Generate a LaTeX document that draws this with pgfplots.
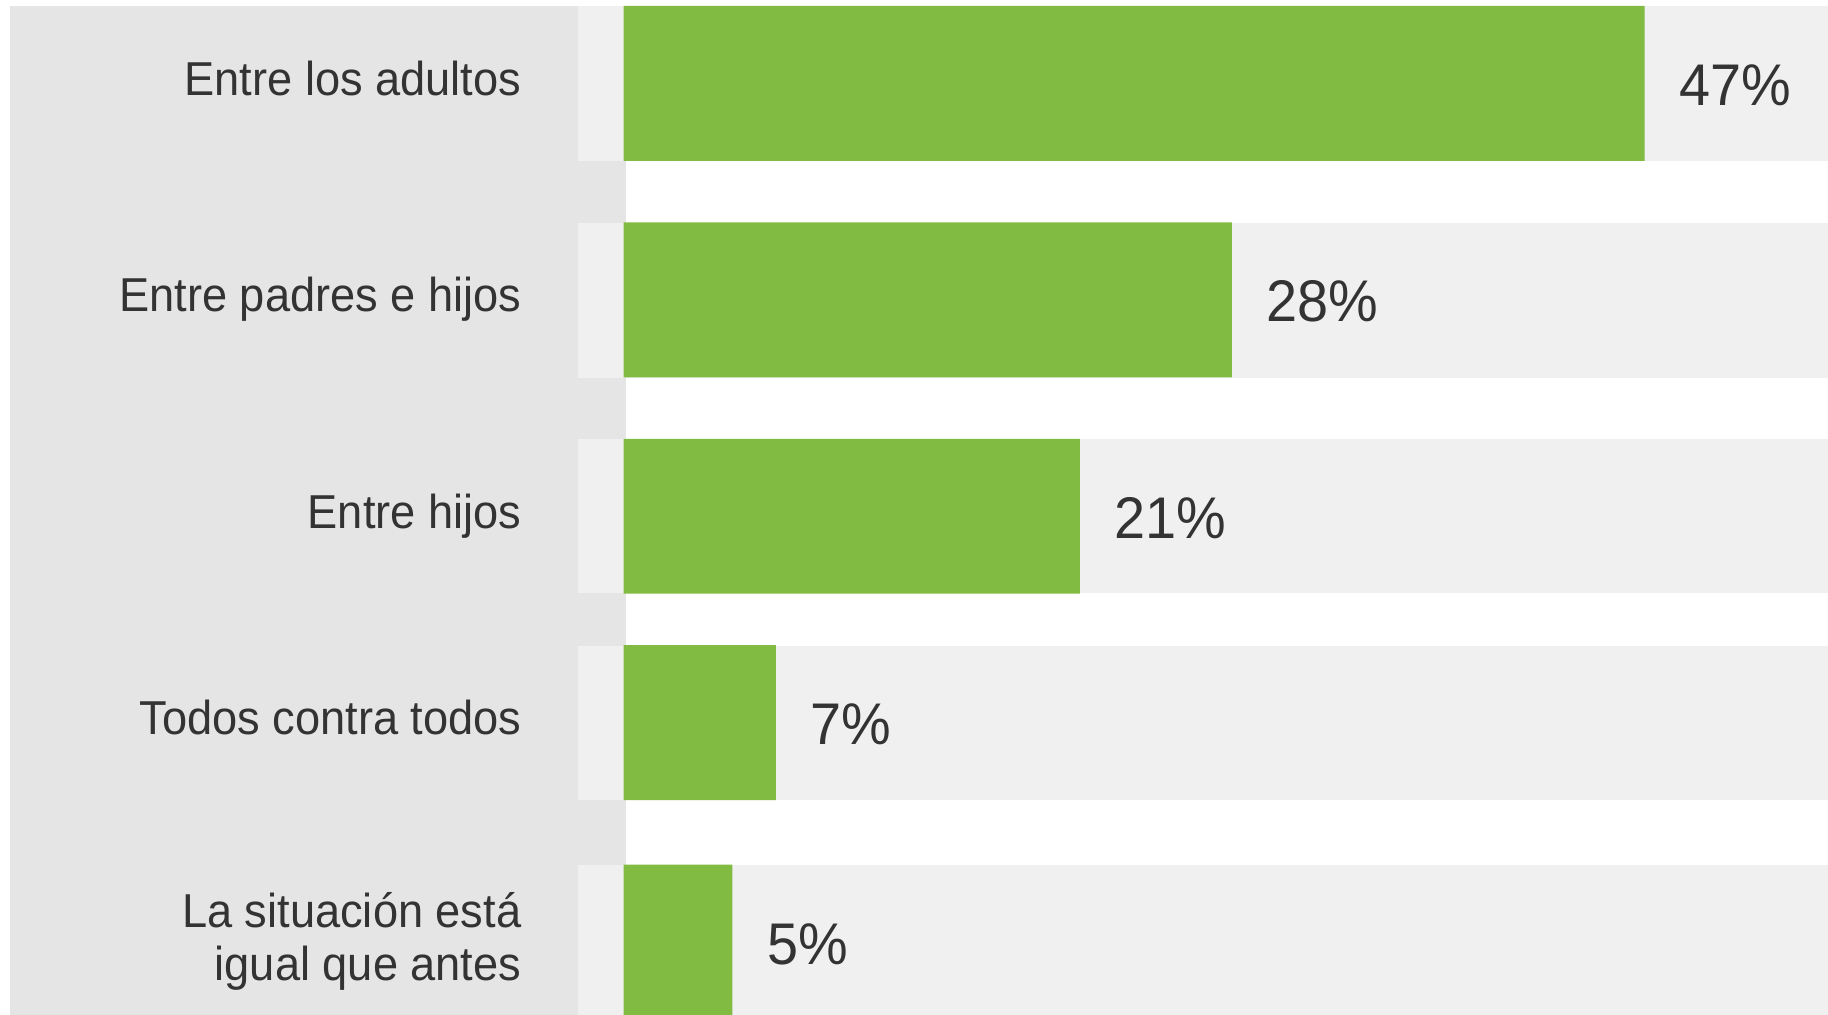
\documentclass[border=0pt]{standalone}
\usepackage{fontspec}
\setmainfont{Liberation Sans}
\newfontfamily\labelfont[FakeStretch=0.95]{Liberation Sans}
\usepackage{pgfplots}
\pgfplotsset{compat=1.18}

\definecolor{barGreen}{HTML}{82BB41}
\definecolor{panelGrey}{HTML}{E5E5E5}
\definecolor{rowGrey}{HTML}{F0F0F0}
\definecolor{txt}{HTML}{333333}

% y in pixels of the 1828x1015 frame, x in percent
\begin{document}
\begin{tikzpicture}
\begin{axis}[
  set layers,
  scale only axis, width=457pt, height=253.75pt,
  xmin=-28.70, xmax=55.43, ymin=0, ymax=1015,
  y dir=reverse, enlargelimits=false,
  axis line style={draw=none}, major tick length=0pt,
  xtick=\empty,
  ytick={83.5,300,516.5,723,942.5},
  yticklabels={Entre los adultos, Entre padres e hijos, Entre hijos, Todos contra todos,
    {\raisebox{6.6pt}{\begin{tabular}[t]{@{}r@{}}La situación está\\igual que antes\end{tabular}}}},
  yticklabel style={anchor=base east, inner sep=0pt, xshift=130.5pt, yshift=-3pt,
    font=\labelfont\fontsize{11.9}{13.25}\selectfont, text=txt},
  xbar, bar width=155, bar shift=0pt,
  /pgf/number format/assume math mode=true,
  nodes near coords={\pgfmathprintnumber{\pgfplotspointmeta}\%},
  nodes near coords style={anchor=base west, inner sep=0pt, xshift=8.5pt, yshift=-5.5pt,
    font=\labelfont\fontsize{14.7}{16}\selectfont, text=txt},
]
\begin{pgfonlayer}{axis background}
\fill[panelGrey] (axis cs:-28.28,6) rectangle (axis cs:0.11,1015);
\fill[rowGrey] (axis cs:-2.10,6) rectangle (axis cs:55.43,161);
\fill[rowGrey] (axis cs:-2.10,223) rectangle (axis cs:55.43,378);
\fill[rowGrey] (axis cs:-2.10,439.5) rectangle (axis cs:55.43,593.5);
\fill[rowGrey] (axis cs:-2.10,646) rectangle (axis cs:55.43,800);
\fill[rowGrey] (axis cs:-2.10,865) rectangle (axis cs:55.43,1015);
\end{pgfonlayer}
\addplot[fill=barGreen, draw=none] coordinates {
  (47,83.5) (28,300) (21,516.5) (7,723) (5,942.5)};
\end{axis}
\end{tikzpicture}
\end{document}
